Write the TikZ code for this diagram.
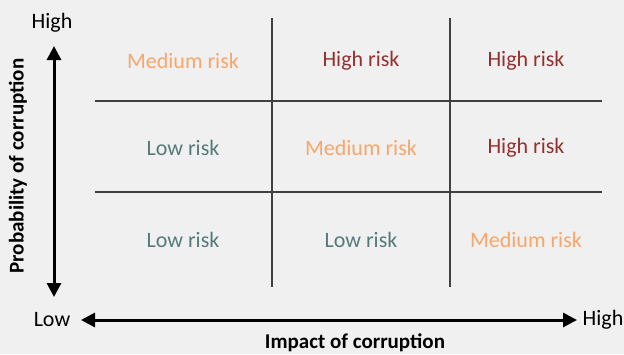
\documentclass[tikz,border=0pt]{standalone}
\usepackage{fontspec}
\setmainfont{Carlito}
\usetikzlibrary{arrows.meta}

\definecolor{bgray}{HTML}{F0F0F0}
\definecolor{gridgray}{HTML}{404040}
\definecolor{lowcol}{HTML}{557B78}
\definecolor{medcol}{HTML}{F8A66A}
\definecolor{highcol}{HTML}{94302F}

\tikzstyle{low} = [text=lowcol,font=\fontsize{22}{26}\selectfont]
\tikzstyle{medium} = [text=medcol,font=\fontsize{22}{26}\selectfont]
\tikzstyle{high} = [text=highcol,font=\fontsize{22}{26}\selectfont]
\tikzstyle{axislabel} = [font=\fontsize{22}{26}\selectfont]
\tikzstyle{axistitle} = [font=\bfseries\fontsize{21}{25}\selectfont]
\tikzstyle{gridline} = [draw=gridgray,line width=1.6pt]
\tikzstyle{axis} = [line width=3pt,{Triangle[length=14pt,width=14pt]}-{Triangle[length=14pt,width=14pt]}]

\begin{document}
\begin{tikzpicture}[x=1pt,y=-1pt]
	\fill[bgray] (0,0) rectangle (624,354);
	\useasboundingbox (0,0) rectangle (624,354);

	% grid
	\coordinate (v1t) at (272,18);
	\coordinate (v1b) at (272,287);
	\coordinate (v2t) at (450,18);
	\coordinate (v2b) at (450,287);
	\coordinate (h1l) at (95,101);
	\coordinate (h1r) at (602,101);
	\coordinate (h2l) at (95,192);
	\coordinate (h2r) at (602,192);

	\draw[gridline] (v1t) -- (v1b);
	\draw[gridline] (v2t) -- (v2b);
	\draw[gridline] (h1l) -- (h1r);
	\draw[gridline] (h2l) -- (h2r);

	% cells
	\node[medium] (c11) at (183,61) {Medium risk};
	\node[high] (c12) at (361,61) {High risk};
	\node[high] (c13) at (526,61) {High risk};
	\node[low] (c21) at (183,148) {Low risk};
	\node[medium] (c22) at (361,148) {Medium risk};
	\node[high] (c23) at (526,148) {High risk};
	\node[low] (c31) at (183,240) {Low risk};
	\node[low] (c32) at (361,240) {Low risk};
	\node[medium] (c33) at (526,240) {Medium risk};

	% axes
	\node[axislabel] (yhigh) at (52,23) {High};
	\node[axislabel] (ylow) at (52,320) {Low};
	\node[axislabel] (xhigh) at (603,320) {High};
	\coordinate (ytop) at (54,46);
	\coordinate (ybot) at (54,297);
	\coordinate (xleft) at (81,320);
	\coordinate (xright) at (577,320);
	\draw[axis] (ybot) -- (ytop);
	\draw[axis] (xleft) -- (xright);

	\node[axistitle] (xtitle) at (355,343) {Impact of corruption};
	\node[axistitle,rotate=90] (ytitle) at (18,166) {Probability of corruption};
\end{tikzpicture}
\end{document}
